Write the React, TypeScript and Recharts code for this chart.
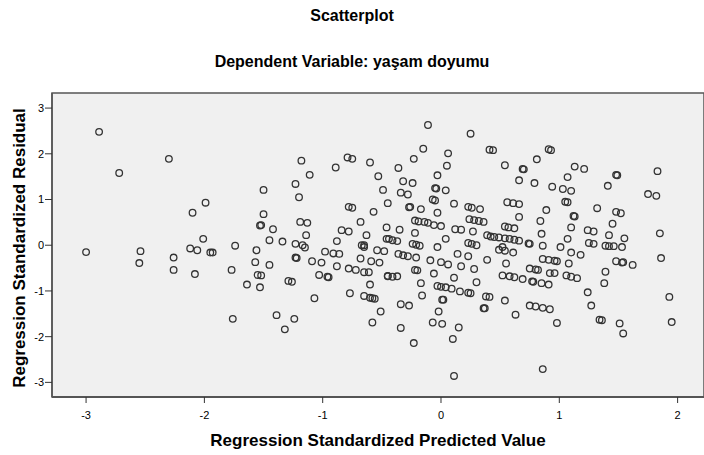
import React from "react";
import {
  ScatterChart,
  Scatter,
  XAxis,
  YAxis,
  ReferenceArea,
} from "recharts";

// Regression standardized predicted values (x)
const predictedValues: number[] = [
  -2.89, -3.0, -2.72, -2.3, -2.54, -2.55, -2.26, -2.26, -2.1, -1.99, -2.01, -2.12, -2.06, -1.95, -1.93, -2.08, -1.77, -1.74, -1.76,
  -1.18, -1.11, -1.23, -1.2, -1.5, -1.5, -1.53, -1.52, -1.42, -1.45, -1.34, -1.23, -1.17, -1.19, -1.13, -1.14, -0.89, -0.79, -0.75, -0.6, -0.53, -0.49, -0.45, -0.78, -0.75, -0.57, -0.68, -0.84, -0.78, -0.63, -0.46, -0.46, -0.44, -0.88, -0.67, -0.65,
  -1.15, -1.56, -1.57, -1.45, -1.55, -1.52, -1.64, -1.53, -1.23, -1.22, -1.09, -1.01, -0.98, -0.91, -0.86, -0.88, -1.03, -0.96, -0.95, -1.29, -1.26, -1.07, -1.39, -1.24, -1.32, -0.65, -0.54, -0.48, -0.68, -0.59, -0.52, -0.78, -0.72, -0.65, -0.61, -0.45, -0.6, -0.77, -0.65, -0.6, -0.58, -0.56, -0.51, -0.58,
  -0.11, 0.25, 0.41, 0.44, -0.15, -0.23, 0.06, 0.05, -0.36, -0.03, -0.32, -0.24, -0.34, -0.28, -0.05, -0.04, 0.04, -0.07, -0.05, 0.11, -0.27, -0.26, -0.17, -0.03, 0.23, 0.26, 0.33, -0.22, -0.19, -0.14, -0.11, -0.06, 0.0, 0.24, 0.28, 0.32, 0.36, 0.12, 0.17, -0.35, -0.22, 0.27, 0.39, 0.42, 0.04, -0.41, -0.37, -0.24, -0.21, -0.18, -0.03, 0.23, 0.26, 0.3,
  -0.36, -0.32, -0.28, -0.21, -0.09, 0.0, 0.06, 0.14, 0.23, 0.17, 0.39, 0.28, -0.22, -0.2, -0.06, 0.11, 0.3, -0.45, -0.41, -0.37, -0.17, -0.16, -0.03, 0.0, 0.04, 0.09, 0.16, 0.23, 0.25, 0.01, 0.02, 0.38, 0.41, 0.36, 0.37, -0.34, -0.27, -0.02, -0.07, 0.01, 0.15, -0.34, 0.1, -0.23, 0.11,
  0.91, 0.93, 0.54, 0.69, 0.7, 0.81, 0.66, 0.79, 0.94, 1.07, 1.13, 1.21, 1.03, 1.1, 1.05, 1.07, 1.32, 0.56, 0.61, 0.66, 0.89, 0.66, 0.84, 1.12, 1.13, 1.1, 0.54, 0.57, 0.62, 0.85, 1.07, 1.24, 1.29, 1.25, 0.45, 0.49, 0.54, 0.58, 0.62, 0.66, 0.74, 0.75, 0.86, 1.01, 0.52,
  0.49, 0.54, 0.61, 1.1, 1.18, 0.55, 0.86, 0.91, 0.96, 0.98, 1.08, 0.75, 0.8, 0.82, 0.92, 0.96, 0.52, 0.58, 0.62, 0.69, 0.77, 0.78, 0.85, 0.91, 1.06, 1.1, 1.15, 0.54, 0.63, 0.75, 0.8, 0.86, 0.92, 0.98, 1.24, 1.27, 1.34, 0.86,
  1.48, 1.49, 1.41, 1.83, 1.75, 1.82, 1.48, 1.52, 1.45, 1.42, 1.55, 1.85, 1.29, 1.39, 1.42, 1.46, 1.53,
  1.48, 1.53, 1.54, 1.62, 1.86, 1.39, 1.38, 1.93, 1.36, 1.51, 1.54, 1.95,
];

// Regression standardized residuals (y)
const residualValues: number[] = [
  2.48, -0.15, 1.58, 1.89, -0.13, -0.39, -0.27, -0.54, 0.71, 0.93, 0.14, -0.07, -0.11, -0.16, -0.16, -0.63, -0.54, -0.01, -1.61,
  1.85, 1.54, 1.34, 1.05, 1.21, 0.68, 0.43, 0.44, 0.35, 0.11, 0.08, 0.03, 0.0, 0.51, 0.49, 0.22, 1.7, 1.92, 1.89, 1.81, 1.51, 1.21, 0.92, 0.84, 0.82, 0.73, 0.51, 0.33, 0.3, 0.22, 0.39, 0.14, 0.14, 0.09, 0.0, 0.0,
  -0.05, -0.11, -0.37, -0.43, -0.65, -0.66, -0.86, -0.92, -0.27, -0.28, -0.35, -0.38, -0.14, -0.18, -0.19, -0.46, -0.65, -0.69, -0.7, -0.78, -0.8, -1.16, -1.53, -1.61, -1.84, -0.04, -0.11, -0.13, -0.29, -0.35, -0.38, -0.51, -0.54, -0.59, -0.59, -0.67, -0.86, -1.05, -1.11, -1.15, -1.16, -1.17, -1.45, -1.69,
  2.63, 2.44, 2.09, 2.08, 2.11, 1.89, 2.01, 1.74, 1.69, 1.53, 1.4, 1.36, 1.15, 1.11, 1.25, 1.24, 1.2, 1.0, 0.98, 0.91, 0.83, 0.84, 0.79, 0.71, 0.84, 0.82, 0.79, 0.54, 0.52, 0.51, 0.49, 0.44, 0.42, 0.57, 0.55, 0.53, 0.51, 0.35, 0.34, 0.34, 0.27, 0.3, 0.22, 0.19, 0.14, 0.11, 0.09, 0.03, 0.01, -0.01, -0.04, 0.05, 0.03, 0.0,
  -0.19, -0.22, -0.24, -0.27, -0.33, -0.37, -0.42, -0.19, -0.24, -0.46, -0.32, -0.52, -0.54, -0.55, -0.62, -0.71, -0.81, -0.68, -0.69, -0.68, -0.83, -1.1, -0.89, -0.91, -0.92, -0.95, -1.01, -1.04, -1.05, -1.19, -1.19, -1.12, -1.13, -1.38, -1.38, -1.29, -1.32, -1.45, -1.69, -1.72, -1.8, -1.81, -2.05, -2.14, -2.86,
  2.1, 2.08, 1.75, 1.67, 1.66, 1.88, 1.42, 1.36, 1.28, 1.49, 1.72, 1.67, 1.23, 1.19, 0.95, 0.94, 0.81, 0.94, 0.92, 0.9, 0.77, 0.62, 0.53, 0.64, 0.63, 0.39, 0.41, 0.39, 0.37, 0.25, 0.14, 0.33, 0.3, 0.05, 0.18, 0.17, 0.15, 0.14, 0.12, 0.1, 0.04, 0.03, -0.01, -0.04, -0.04,
  -0.1, -0.12, -0.16, -0.16, -0.21, -0.4, -0.3, -0.32, -0.34, -0.35, -0.4, -0.51, -0.53, -0.54, -0.61, -0.61, -0.66, -0.68, -0.7, -0.74, -0.79, -0.8, -0.83, -0.86, -0.66, -0.69, -0.72, -1.21, -1.52, -1.32, -1.34, -1.37, -1.4, -1.7, -1.03, -1.32, -1.63, -2.71,
  1.54, 1.53, 1.3, 1.62, 1.12, 1.08, 0.73, 0.7, 0.47, 0.22, 0.15, 0.26, 0.03, -0.01, -0.02, -0.02, -0.04,
  -0.35, -0.38, -0.37, -0.43, -0.28, -0.58, -0.83, -1.13, -1.64, -1.71, -1.93, -1.68,
];

const xTicks = [-3, -2, -1, 0, 1, 2];
const yTicks = [-3, -2, -1, 0, 1, 2, 3];
const xDomain: [number, number] = [-3.288, 2.223];
const yDomain: [number, number] = [-3.32, 3.33];

const points = predictedValues.map((x, i) => ({ x, y: residualValues[i] }));

const FONT = "'Liberation Sans', Arial, sans-serif";

const Ring = (props: any) => {
  const { cx, cy } = props;
  if (cx == null || cy == null) return null;
  return (
    <circle cx={cx} cy={cy} r={3.3} fill="none" stroke="#333333" strokeWidth={1.3} />
  );
};

export default function App() {
  return (
    <div
      style={{
        position: "absolute",
        left: 0,
        top: 0,
        width: 704,
        height: 455,
        background: "#ffffff",
        fontFamily: FONT,
        overflow: "hidden",
      }}
    >
      <div
        style={{
          position: "absolute",
          left: 0,
          top: 7,
          width: 704,
          textAlign: "center",
          fontWeight: "bold",
          fontSize: 16,
          color: "#000",
        }}
      >
        Scatterplot
      </div>
      <div
        style={{
          position: "absolute",
          left: 0,
          top: 53,
          width: 704,
          textAlign: "center",
          fontWeight: "bold",
          fontSize: 16,
          color: "#000",
        }}
      >
        Dependent Variable: yaşam doyumu
      </div>
      <ScatterChart
        width={704}
        height={455}
        margin={{ top: 93, right: 0, bottom: 0, left: 0 }}
        style={{ position: "absolute", left: 0, top: 0 }}
      >
        <ReferenceArea
          x1={xDomain[0]}
          x2={xDomain[1]}
          y1={yDomain[0]}
          y2={yDomain[1]}
          fill="#f0f0f0"
          fillOpacity={1}
          stroke="#555555"
          strokeWidth={1.5}
          ifOverflow="visible"
        />
        <XAxis
          type="number"
          dataKey="x"
          domain={xDomain}
          ticks={xTicks}
          height={58}
          allowDataOverflow
          tickSize={6}
          tickMargin={8}
          axisLine={{ stroke: "#555555", strokeWidth: 2 }}
          tickLine={{ stroke: "#333333", strokeWidth: 1 }}
          tick={{ fontSize: 11, fill: "#000", fontFamily: FONT }}
        />
        <YAxis
          type="number"
          dataKey="y"
          domain={yDomain}
          ticks={yTicks}
          width={52}
          allowDataOverflow
          tickSize={7}
          tickMargin={1}
          axisLine={{ stroke: "#555555", strokeWidth: 1.5 }}
          tickLine={{ stroke: "#333333", strokeWidth: 1 }}
          tick={{ fontSize: 11, fill: "#000", fontFamily: FONT }}
        />
        <Scatter data={points} shape={Ring} isAnimationActive={false} />
      </ScatterChart>
      <div
        style={{
          position: "absolute",
          left: 52,
          top: 431,
          width: 652,
          textAlign: "center",
          fontWeight: "bold",
          fontSize: 17,
          color: "#000",
        }}
      >
        Regression Standardized Predicted Value
      </div>
      <div
        style={{
          position: "absolute",
          left: 20 - 160,
          top: 248 - 10,
          width: 320,
          height: 20,
          lineHeight: "20px",
          textAlign: "center",
          fontWeight: "bold",
          fontSize: 17,
          color: "#000",
          transform: "rotate(-90deg)",
          transformOrigin: "center center",
          whiteSpace: "nowrap",
        }}
      >
        Regression Standardized Residual
      </div>
    </div>
  );
}
